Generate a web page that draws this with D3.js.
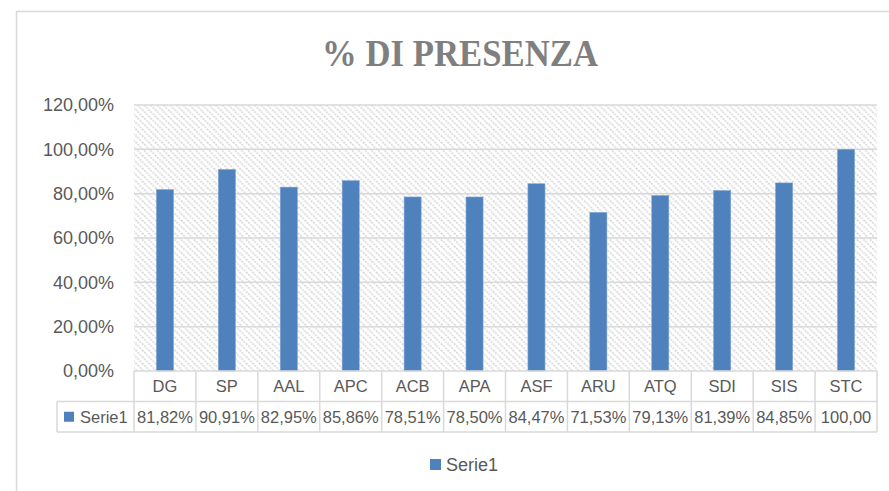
<!DOCTYPE html>
<html>
<head>
<meta charset="utf-8">
<script src="https://cdn.jsdelivr.net/npm/d3@7"></script>
<style>
  body { margin: 0; background: #fff; }
  svg { display: block; }
</style>
</head>
<body>
<svg id="chart"></svg>
<script>
// data
var categories = ["DG", "SP", "AAL", "APC", "ACB", "APA", "ASF", "ARU", "ATQ", "SDI", "SIS", "STC"];
var serie1 = [81.82, 90.91, 82.95, 85.86, 78.51, 78.50, 84.47, 71.53, 79.13, 81.39, 84.85, 100.00];
var yTicks = [0, 20, 40, 60, 80, 100, 120];
var seriesName = "Serie1";
var title = "% DI PRESENZA";

var svgWidth = 889, svgHeight = 491;
var plot = { left: 134, right: 877, top: 105, bottom: 371 };
var rowH = 30.5;
var barColor = "#4F81BD";
var textColor = "#595959";
var gridColor = "#d9d9d9";

var svg = d3.select("#chart")
    .attr("width", svgWidth)
    .attr("height", svgHeight);

svg.append("rect")
    .attr("width", svgWidth).attr("height", svgHeight)
    .attr("fill", "#fff");

// chart frame (cut off on the right / bottom)
svg.append("rect")
    .attr("x", 16.5).attr("y", 11.5)
    .attr("width", 1000).attr("height", 600)
    .attr("fill", "#fff")
    .attr("stroke", "#d9d9d9")
    .attr("stroke-width", 1.5);

// hatch pattern for plot area
var defs = svg.append("defs");
var pat = defs.append("pattern")
    .attr("id", "hatch")
    .attr("patternUnits", "userSpaceOnUse")
    .attr("width", 6.5).attr("height", 6.5);
pat.append("path")
    .attr("d", "M-1,-1 L7.5,7.5 M-1,5.5 L1,7.5 M5.5,-1 L7.5,1")
    .attr("stroke", "#d6d6d6")
    .attr("stroke-width", 1.6)
    .attr("stroke-dasharray", "2,1");

var fmt = function(v) {
  return d3.format(".2f")(v).replace(".", ",") + "%";
};

var x = d3.scaleBand()
    .domain(categories)
    .range([plot.left, plot.right])
    .padding(0);

var y = d3.scaleLinear()
    .domain([0, 120])
    .range([plot.bottom, plot.top]);

svg.append("rect")
    .attr("x", plot.left).attr("y", plot.top)
    .attr("width", plot.right - plot.left)
    .attr("height", plot.bottom - plot.top)
    .attr("fill", "url(#hatch)");

// gridlines
svg.append("g")
    .selectAll("line")
    .data(yTicks.filter(function(d) { return d > 0; }))
    .join("line")
    .attr("x1", plot.left).attr("x2", plot.right)
    .attr("y1", function(d) { return y(d); })
    .attr("y2", function(d) { return y(d); })
    .attr("stroke", gridColor)
    .attr("stroke-width", 1.5);

// y axis labels
var yAxis = svg.append("g")
    .attr("transform", "translate(" + (plot.left - 7) + ",0)")
    .call(d3.axisLeft(y).tickValues(yTicks).tickSize(0).tickPadding(13).tickFormat(fmt));
yAxis.select(".domain").remove();
yAxis.selectAll("text")
    .attr("fill", textColor)
    .attr("font-family", "Liberation Sans, Arial, sans-serif")
    .attr("font-size", 18);

// bars
var barW = x.bandwidth() * 0.275;
svg.append("g")
    .selectAll("rect")
    .data(serie1)
    .join("rect")
    .attr("x", function(d, i) { return x(categories[i]) + (x.bandwidth() - barW) / 2; })
    .attr("y", function(d) { return y(d); })
    .attr("width", barW)
    .attr("height", function(d) { return y(0) - y(d); })
    .attr("fill", barColor)
    .attr("stroke", "#7ea3d3")
    .attr("stroke-width", 0.6);

// data table
var table = svg.append("g");
var tableLeft = 57;
var r1 = plot.bottom, r2 = plot.bottom + rowH, r3 = plot.bottom + 2 * rowH;
var lineStyle = function(sel) {
  sel.attr("stroke", gridColor).attr("stroke-width", 1.5);
};

table.append("line").attr("x1", plot.left).attr("x2", plot.right)
    .attr("y1", r1).attr("y2", r1).call(lineStyle);
table.append("line").attr("x1", tableLeft).attr("x2", plot.right)
    .attr("y1", r2).attr("y2", r2).call(lineStyle);
table.append("line").attr("x1", tableLeft).attr("x2", plot.right)
    .attr("y1", r3).attr("y2", r3).call(lineStyle);
table.append("line").attr("x1", tableLeft).attr("x2", tableLeft)
    .attr("y1", r2).attr("y2", r3).call(lineStyle);

table.selectAll(".vline")
    .data(categories.map(function(c) { return x(c); }).concat([plot.right]))
    .join("line")
    .attr("class", "vline")
    .attr("x1", function(d) { return d; }).attr("x2", function(d) { return d; })
    .attr("y1", r1).attr("y2", r3)
    .call(lineStyle);

table.selectAll(".cat")
    .data(categories)
    .join("text")
    .attr("class", "cat")
    .attr("x", function(d) { return x(d) + x.bandwidth() / 2; })
    .attr("y", r1 + rowH / 2)
    .attr("dy", "0.36em")
    .attr("text-anchor", "middle")
    .attr("fill", textColor)
    .attr("font-family", "Liberation Sans, Arial, sans-serif")
    .attr("font-size", 16.5)
    .text(function(d) { return d; });

var vals = table.selectAll(".val")
    .data(serie1)
    .join("text")
    .attr("class", "val")
    .attr("x", function(d, i) { return x(categories[i]) + x.bandwidth() / 2; })
    .attr("y", r2 + rowH / 2)
    .attr("dy", "0.36em")
    .attr("text-anchor", "middle")
    .attr("fill", textColor)
    .attr("font-family", "Liberation Sans, Arial, sans-serif")
    .attr("font-size", 16.5)
    .text(function(d) { return fmt(d); });

// drop trailing characters that don't fit in the cell, like Excel does
vals.each(function() {
  var t = d3.select(this);
  var s = t.text();
  while (this.getComputedTextLength() > x.bandwidth() - 2 && s.length > 1) {
    s = s.slice(0, -1);
    t.text(s);
  }
});

table.append("rect")
    .attr("x", 64).attr("y", r2 + rowH / 2 - 5)
    .attr("width", 10).attr("height", 10)
    .attr("fill", barColor);
table.append("text")
    .attr("x", 80).attr("y", r2 + rowH / 2)
    .attr("dy", "0.36em")
    .attr("fill", textColor)
    .attr("font-family", "Liberation Sans, Arial, sans-serif")
    .attr("font-size", 16.5)
    .text(seriesName);

// legend
var legend = svg.append("g").attr("transform", "translate(430,465)");
legend.append("rect")
    .attr("x", 0).attr("y", -6)
    .attr("width", 11).attr("height", 11)
    .attr("fill", barColor);
legend.append("text")
    .attr("x", 16).attr("y", 0)
    .attr("dy", "0.36em")
    .attr("fill", textColor)
    .attr("font-family", "Liberation Sans, Arial, sans-serif")
    .attr("font-size", 18)
    .text(seriesName);

// title
svg.append("text")
    .attr("x", 460).attr("y", 66)
    .attr("text-anchor", "middle")
    .attr("fill", "#7f7f7f")
    .attr("font-family", "Liberation Serif, DejaVu Serif, serif")
    .attr("font-weight", "bold")
    .attr("font-size", 38)
    .attr("textLength", 276)
    .attr("lengthAdjust", "spacingAndGlyphs")
    .text(title);
</script>
</body>
</html>
